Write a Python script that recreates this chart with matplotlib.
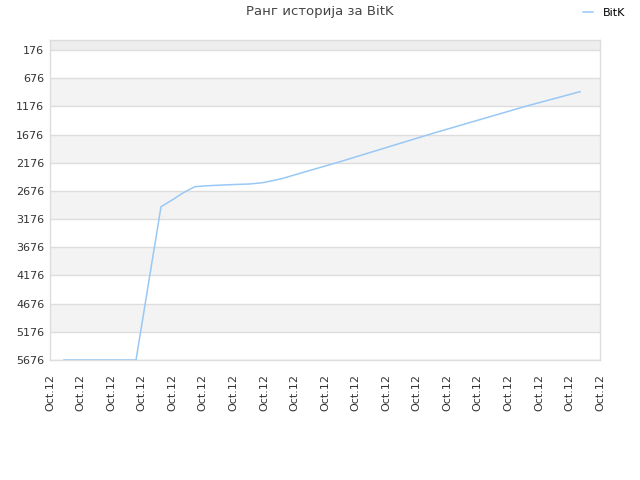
import matplotlib
matplotlib.use("Agg")
import matplotlib.pyplot as plt

# data (x in label-index units, y = rank)
x_vals = [0.458, 2.815, 3.633, 4.035, 4.363, 4.745, 5.171, 5.891, 6.545, 6.971, 7.583, 9.491, 12.535, 15.601, 17.345]
ranks = [5676, 5676, 2956, 2825, 2708, 2601, 2584, 2566, 2553, 2530, 2459, 2158, 1654, 1170, 916]
x_labels = ["Oct.12"] * 19
y_ticks = [176, 676, 1176, 1676, 2176, 2676, 3176, 3676, 4176, 4676, 5176, 5676]
series_name = "BitK"
title = "Ранг историја за BitK"

fig = plt.figure(figsize=(6.4, 4.8), dpi=100)
ax = fig.add_axes([50/640, 1-360/480, 550/640, 320/480])

ymin_top = -1
ax.set_ylim(5676, ymin_top)
ax.set_xlim(0, 18)

# alternating bands
ax.axhspan(ymin_top, 176, color="#eeeeee", zorder=0, lw=0)
for i in range(len(y_ticks)-1):
    if i % 2 == 1:
        ax.axhspan(y_ticks[i], y_ticks[i+1], color="#f3f3f3", zorder=0, lw=0)
for t in y_ticks:
    ax.axhline(t, color="#dddddd", lw=1, zorder=1)

line, = ax.plot(x_vals, ranks, color="#99c8f5", lw=1.1, zorder=3, label=series_name)

ax.set_yticks(y_ticks)
ax.set_yticklabels([str(t) for t in y_ticks])
ax.set_xticks(range(len(x_labels)))
ax.set_xticklabels(x_labels, rotation=90)
ax.tick_params(axis="both", length=0, labelsize=8, labelcolor="#333333", pad=4)
ax.tick_params(axis="x", pad=10)

for s in ax.spines.values():
    s.set_color("#dddddd")
    s.set_linewidth(1)

fig.text(0.5, 1-12/480, title, ha="center", va="center", fontsize=9.5, color="#444444")
fig.legend(handles=[line], loc="center right", bbox_to_anchor=(0.993, 1-13/480),
           frameon=False, fontsize=8, handlelength=0.9, handletextpad=0.9)

fig.savefig("out.png", dpi=100)
